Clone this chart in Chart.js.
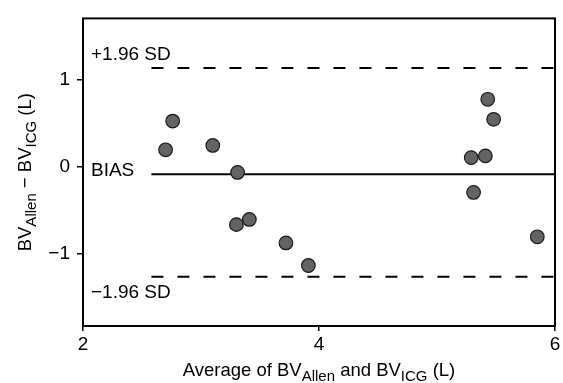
<!DOCTYPE html>
<html>
<head>
<meta charset="utf-8">
<script src="https://cdn.jsdelivr.net/npm/chart.js@4/dist/chart.umd.min.js"></script>
<style>
  html, body { margin: 0; padding: 0; background: #fff; }
  #wrap { width: 563px; height: 383px; position: relative; }
</style>
</head>
<body>
<div id="wrap"><canvas id="c"></canvas></div>
<script>
// ---- data ----
const averageL = [2.70, 2.76, 3.10, 3.31, 3.30, 3.41, 3.72, 3.91, 5.29, 5.31, 5.41, 5.43, 5.48, 5.85];
const differenceL = [0.19, 0.52, 0.24, -0.07, -0.67, -0.61, -0.88, -1.14, 0.10, -0.30, 0.12, 0.77, 0.54, -0.81];
const biasValue = -0.09;
const upperLimit = 1.13;   // +1.96 SD
const lowerLimit = -1.27;  // -1.96 SD
const refLineStartX = 2.58;
const refLineEndX = 6;
const xTickValues = [2, 4, 6];
const yTickValues = [-1, 0, 1];
const xRange = [2, 6];
const yRange = [-1.835, 1.70];

const FONT = '"Liberation Sans", Arial, Helvetica, sans-serif';

const points = averageL.map((x, i) => ({ x: x, y: differenceL[i] }));
const refLine = v => [{ x: refLineStartX, y: v }, { x: refLineEndX, y: v }];

// draws text made of runs, some of them subscripts
function drawRuns(ctx, runs, x, y, align, mainSize, subSize, subDrop) {
  let total = 0;
  runs.forEach(r => {
    ctx.font = (r.sub ? subSize : mainSize) + 'px ' + FONT;
    r.w = ctx.measureText(r.t).width;
    total += r.w;
  });
  let cx = align === 'center' ? x - total / 2 : x;
  runs.forEach(r => {
    ctx.font = (r.sub ? subSize : mainSize) + 'px ' + FONT;
    ctx.fillText(r.t, cx, y + (r.sub ? subDrop : 0));
    cx += r.w;
  });
}

const decorPlugin = {
  id: 'decor',
  afterDraw(chart) {
    const ctx = chart.ctx;
    const a = chart.chartArea;
    const ys = chart.scales.y;
    ctx.save();
    // frame
    ctx.strokeStyle = '#000';
    ctx.lineWidth = 2;
    ctx.strokeRect(a.left, a.top, a.right - a.left, a.bottom - a.top);
    ctx.fillStyle = '#000';
    ctx.textAlign = 'left';
    // line labels
    ctx.textBaseline = 'middle';
    ctx.font = '19px ' + FONT;
    ctx.fillText('+1.96 SD', a.left + 8, ys.getPixelForValue(upperLimit) - 13);
    ctx.fillText('BIAS', a.left + 8, ys.getPixelForValue(biasValue) - 3);
    ctx.fillText('\u22121.96 SD', a.left + 8, ys.getPixelForValue(lowerLimit) + 16);
    // x title
    ctx.textBaseline = 'alphabetic';
    drawRuns(ctx, [
      { t: 'Average of BV' }, { t: 'Allen', sub: true },
      { t: ' and BV' }, { t: 'ICG', sub: true }, { t: ' (L)' }
    ], (a.left + a.right) / 2, 376, 'center', 18.5, 15, 5);
    // y title
    ctx.translate(31, (a.top + a.bottom) / 2);
    ctx.rotate(-Math.PI / 2);
    drawRuns(ctx, [
      { t: 'BV' }, { t: 'Allen', sub: true },
      { t: ' \u2212 BV' }, { t: 'ICG', sub: true }, { t: ' (L)' }
    ], 0, 0, 'center', 18.5, 15, 5);
    ctx.restore();
  }
};

const lineStyle = {
  showLine: true, pointRadius: 0, pointHoverRadius: 0,
  borderColor: '#000', borderWidth: 2, fill: false, order: 1
};

new Chart(document.getElementById('c'), {
  type: 'scatter',
  data: {
    datasets: [
      {
        label: 'Patients',
        data: points,
        pointRadius: 6.8,
        pointHoverRadius: 6.8,
        pointBackgroundColor: '#636363',
        pointBorderColor: '#1a1a1a',
        pointBorderWidth: 1.2,
        order: 0
      },
      Object.assign({ label: 'Bias', data: refLine(biasValue) }, lineStyle),
      Object.assign({ label: '+1.96 SD', data: refLine(upperLimit), borderDash: [12, 14] }, lineStyle),
      Object.assign({ label: '-1.96 SD', data: refLine(lowerLimit), borderDash: [12, 14] }, lineStyle)
    ]
  },
  options: {
    responsive: true,
    maintainAspectRatio: false,
    animation: false,
    events: [],
    layout: { padding: { top: 15, right: 5, left: 0, bottom: 0 } },
    plugins: { legend: { display: false }, tooltip: { enabled: false } },
    scales: {
      x: {
        type: 'linear',
        min: xRange[0], max: xRange[1],
        afterBuildTicks: s => { s.ticks = xTickValues.map(v => ({ value: v })); },
        afterFit: s => { s.height = 57; },
        border: { display: false },
        grid: { display: true, drawOnChartArea: false, drawTicks: true, tickLength: 5, color: '#000', lineWidth: 1.5 },
        ticks: { color: '#000', font: { family: FONT, size: 19 }, padding: 2, maxRotation: 0 }
      },
      y: {
        type: 'linear',
        min: yRange[0], max: yRange[1],
        afterBuildTicks: s => { s.ticks = yTickValues.map(v => ({ value: v })); },
        afterFit: s => { s.width = 83; },
        border: { display: false },
        grid: { display: true, drawOnChartArea: false, drawTicks: true, tickLength: 6, color: '#000', lineWidth: 1.5 },
        ticks: {
          color: '#000', font: { family: FONT, size: 19 }, padding: 7,
          callback: v => (v < 0 ? '\u2212' + Math.abs(v) : String(v))
        }
      }
    }
  },
  plugins: [decorPlugin]
});
</script>
</body>
</html>
